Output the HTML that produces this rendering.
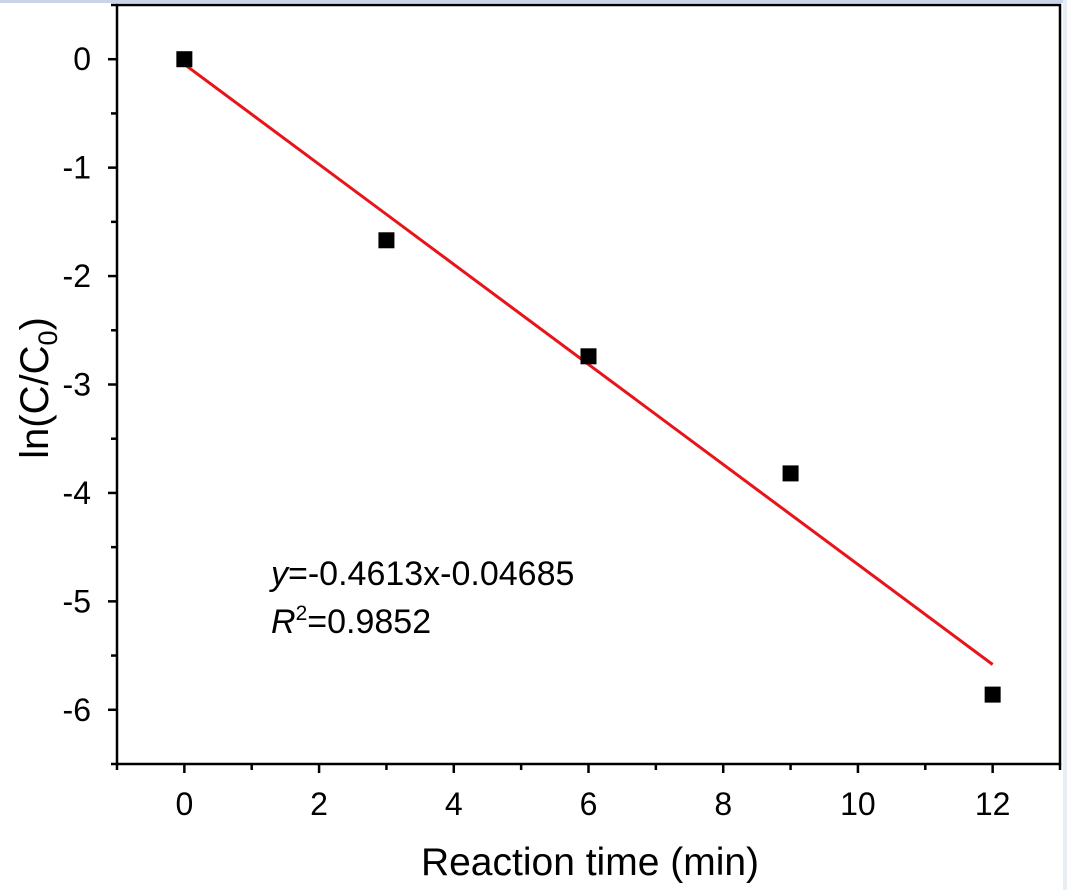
<!DOCTYPE html>
<html><head><meta charset="utf-8"><style>
html,body{margin:0;padding:0;background:#fff;}
svg{display:block;font-family:"Liberation Sans",sans-serif;}
</style></head><body>
<svg id="chart" width="1067" height="890">
<rect x="0" y="0" width="1067" height="3" fill="#c9d5e6"/>
<rect x="1063" y="0" width="4" height="890" fill="#e8eef6"/>
<g id="plot"></g>
</svg>
<script>
const xs = [0, 3, 6, 9, 12];
const ys = [0, -1.67, -2.74, -3.82, -5.86];
const slope = -0.4613;
const intercept = -0.04685;
const xTicks = [0, 2, 4, 6, 8, 10, 12];
const yTicks = [0, -1, -2, -3, -4, -5, -6];
const NS = "http://www.w3.org/2000/svg";
const L = 117, R = 1060, T = 5, B = 764;
const X = v => L + (v - (-1)) / 14 * (R - L);
const Y = v => T + (0.5 - v) / 7 * (B - T);
const g = document.getElementById('plot');
function mk(tag, attrs, parent) {
  const e = document.createElementNS(NS, tag);
  for (const k in attrs) e.setAttribute(k, attrs[k]);
  (parent || g).appendChild(e);
  return e;
}
const frame = mk('rect', {x: L, y: T, width: R - L, height: B - T, fill: 'none', stroke: '#000', 'stroke-width': 2.5});


for (let v = -1; v <= 13; v++) {
  const major = xTicks.includes(v);
  const t = mk('line', {x1: X(v), x2: X(v), y1: B, y2: B + (major ? 9 : 6), stroke: '#000', 'stroke-width': 2.5});
  
  
}
xTicks.forEach(v => {
  const t = mk('text', {x: X(v), y: B + 51, 'text-anchor': 'middle', 'font-size': '32px'});
  t.textContent = v;
  
  
});
for (let v = 0.5; v >= -6.5; v -= 0.5) {
  const major = yTicks.includes(v);
  const t = mk('line', {x1: L, x2: L - (major ? 9 : 6), y1: Y(v), y2: Y(v), stroke: '#000', 'stroke-width': 2.5});
  
  
}
yTicks.forEach(v => {
  const t = mk('text', {x: L - 26, y: Y(v) + 11, 'text-anchor': 'end', 'font-size': '32px'});
  t.textContent = v;
  
  
});
const fit = mk('line', {x1: X(0), y1: Y(intercept), x2: X(12), y2: Y(slope * 12 + intercept), stroke: '#e8141a', 'stroke-width': 3});


xs.forEach((x, i) => {
  const p = mk('rect', {x: X(x) - 8, y: Y(ys[i]) - 8, width: 16, height: 16, fill: '#000'});
  
  
});
</script>
<svg style="position:absolute;left:0;top:0" width="1067" height="890">
<text x="590" y="875" text-anchor="middle" font-size="39px" font-family="Liberation Sans, sans-serif">Reaction time (min)</text>
<text transform="translate(48,388) rotate(-90)" text-anchor="middle" font-size="40px" font-family="Liberation Sans, sans-serif">ln(C/C<tspan font-size="27px" dy="9">0</tspan><tspan dy="-9">)</tspan></text>
<text x="271" y="585" font-size="34px" font-family="Liberation Sans, sans-serif"><tspan font-style="italic">y</tspan>=-0.4613x-0.04685</text>
<text x="271" y="633" font-size="34px" font-family="Liberation Sans, sans-serif"><tspan font-style="italic">R</tspan><tspan font-size="21px" dy="-13">2</tspan><tspan dy="13">=0.9852</tspan></text>
</svg>
</body></html>
